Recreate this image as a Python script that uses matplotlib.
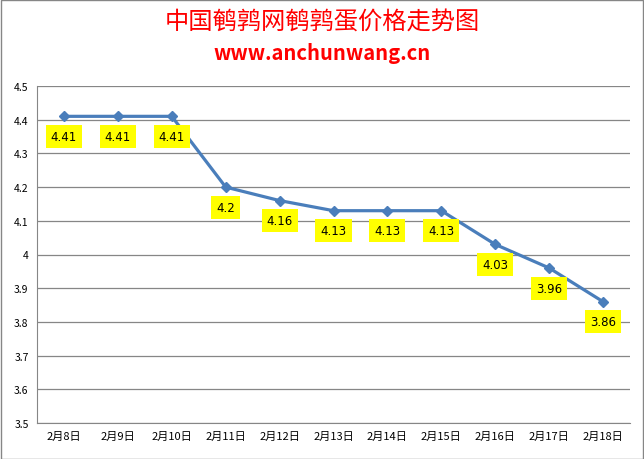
import matplotlib
matplotlib.use("Agg")
import matplotlib.pyplot as plt
from matplotlib.patches import Rectangle

plt.rcParams['font.family'] = ['Noto Sans CJK SC', 'DejaVu Sans']

# ---- データ ----
dates = ["2月8日", "2月9日", "2月10日", "2月11日", "2月12日", "2月13日",
         "2月14日", "2月15日", "2月16日", "2月17日", "2月18日"]
prices = [4.41, 4.41, 4.41, 4.2, 4.16, 4.13, 4.13, 4.13, 4.03, 3.96, 3.86]
price_labels = ["4.41", "4.41", "4.41", "4.2", "4.16", "4.13", "4.13", "4.13", "4.03", "3.96", "3.86"]
yticks = [3.5, 3.6, 3.7, 3.8, 3.9, 4.0, 4.1, 4.2, 4.3, 4.4, 4.5]
ytick_labels = ["3.5", "3.6", "3.7", "3.8", "3.9", "4", "4.1", "4.2", "4.3", "4.4", "4.5"]

fig = plt.figure(figsize=(6.44, 4.6), dpi=100)
ax = fig.add_axes([37 / 644, 36 / 460, 593 / 644, 337 / 460])

# 外枠
fig.patches.append(Rectangle((0.001, 0.001), 0.997, 0.997, transform=fig.transFigure,
                             fill=False, edgecolor="#868686", linewidth=1))

x = list(range(len(dates)))
ax.plot(x, prices, color="#4A7EBB", linewidth=2.3, marker="D", markersize=5.5, zorder=3)

# データラベル（黄色ボックス）
for xi, yi, lab in zip(x, prices, price_labels):
    ax.annotate(lab, (xi, yi), xytext=(0, -14.5), textcoords="offset points",
                ha="center", va="center", fontsize=8.5, family=["DejaVu Sans"],
                bbox=dict(boxstyle="square,pad=0.42", facecolor="#FFFF00", edgecolor="none"),
                zorder=4)

ax.set_xlim(-0.5, len(dates) - 0.5)
ax.set_ylim(3.5, 4.5)
ax.set_yticks(yticks)
ax.set_yticklabels(ytick_labels, fontsize=7.5)
ax.set_xticks(x)
ax.set_xticklabels(dates, fontsize=8)
ax.tick_params(axis="both", length=0, pad=6, colors="black")
ax.grid(axis="y", color="#868686", linewidth=0.9)
ax.set_axisbelow(True)
for side in ["top", "right"]:
    ax.spines[side].set_visible(False)
ax.spines["left"].set_color("#868686")
ax.spines["bottom"].set_color("#868686")

fig.text(0.5, 1 - 22 / 460, "中国鹌鹑网鹌鹑蛋价格走势图", ha="center", va="center",
         color="#FF0000", fontsize=17.5)
fig.text(0.5, 1 - 54 / 460, "www.anchunwang.cn", ha="center", va="center",
         color="#FF0000", fontsize=14.5, fontweight="bold")

fig.savefig("out.png", dpi=100)
